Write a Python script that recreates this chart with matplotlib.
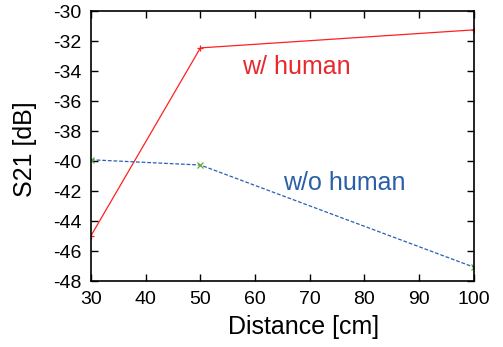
import matplotlib
matplotlib.use("Agg")
import matplotlib.pyplot as plt

plt.rcParams['font.family'] = ['Liberation Sans', 'DejaVu Sans']
plt.rcParams['axes.unicode_minus'] = False

distance = [30, 50, 100]
with_human = [-44.95, -32.45, -31.25]
without_human = [-39.9, -40.25, -47.05]

fig = plt.figure(figsize=(5.03, 3.47), dpi=100)
ax = fig.add_axes([0.181, 0.189, 0.761, 0.779])

ax.plot(distance, with_human, color='#ff2020', lw=0.9, marker='+', ms=5, mec='#ff2020', mew=0.9)
ax.plot(distance, without_human, color='#2a5fb8', lw=0.9, ls=(0, (3, 1.5)),
        marker='x', ms=4, mec='#5cb030', mew=0.9)

ax.text(67.6, -33.7, "w/ human", color='#e8282d', fontsize=18, ha='center', va='center')
ax.text(76.4, -41.45, "w/o human", color='#2a5fa8', fontsize=18, ha='center', va='center')

ax.set_xlim(30, 100)
ax.set_ylim(-48, -30)
ax.set_xticks(range(30, 101, 10))
ax.set_yticks(range(-48, -29, 2))
ax.tick_params(direction='in', top=True, right=True, labelsize=14, length=5, width=1, pad=7)
for s in ax.spines.values():
    s.set_linewidth(1.2)
ax.set_xlabel("Distance [cm]", fontsize=18)
ax.set_ylabel("S21 [dB]", fontsize=18)
ax.xaxis.set_label_coords(0.555, -0.125)
ax.yaxis.set_label_coords(-0.14, 0.49)

fig.savefig("out.png", dpi=100)
